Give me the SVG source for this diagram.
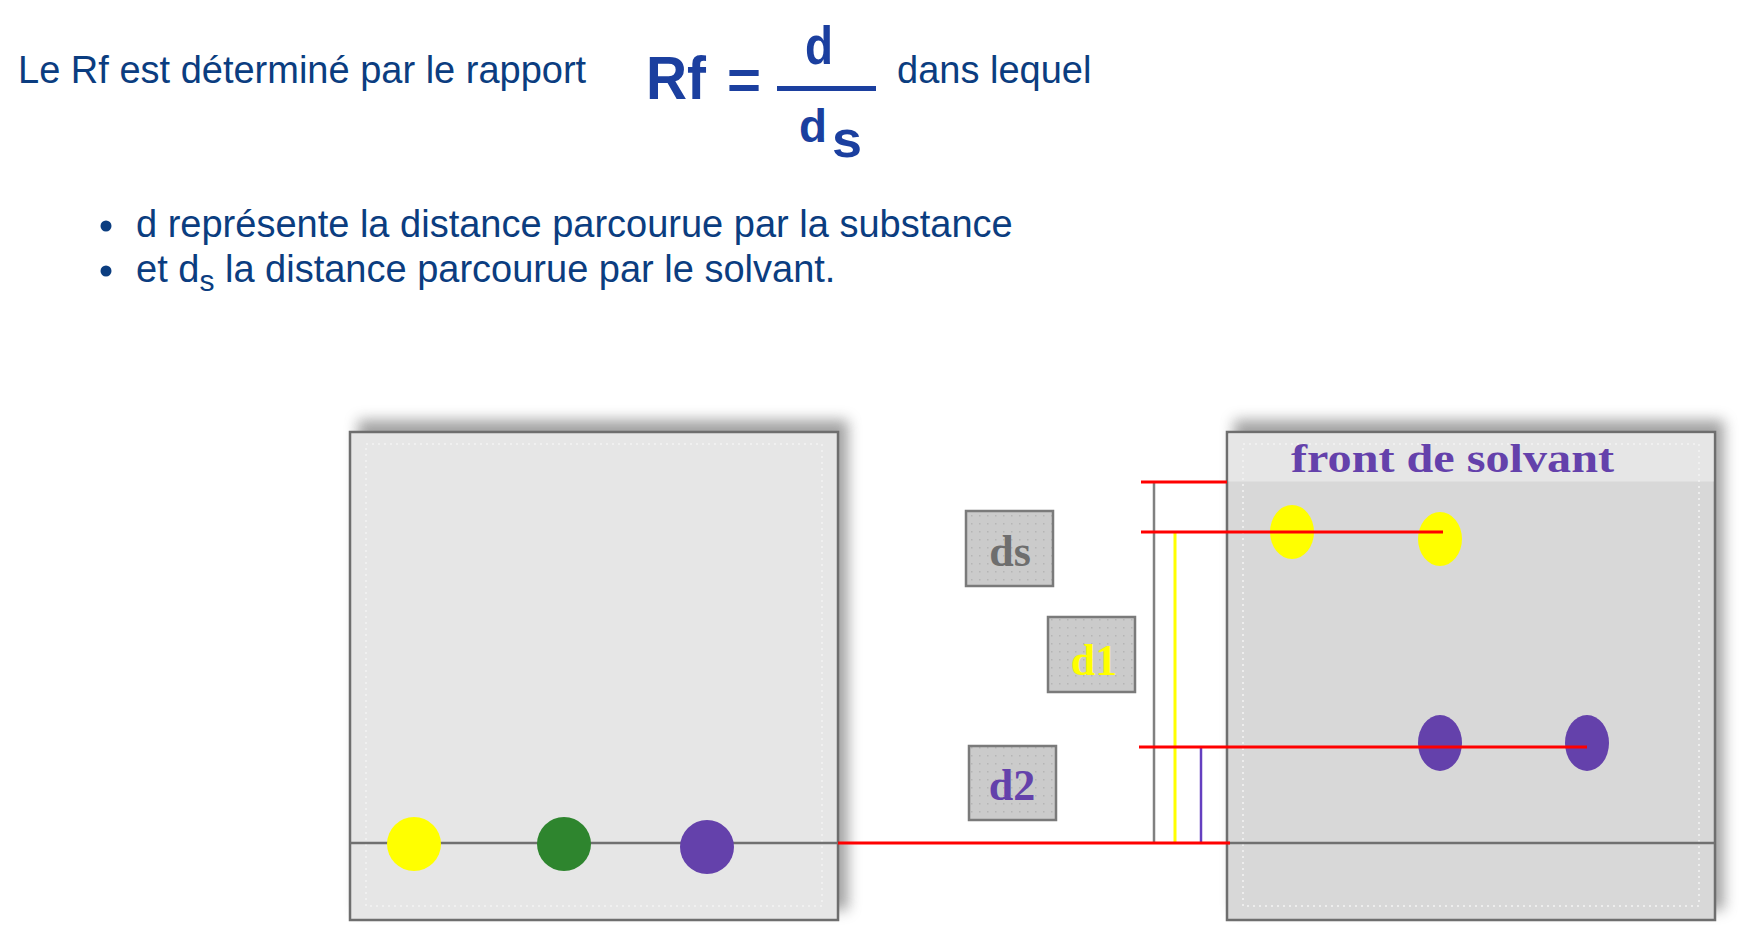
<svg xmlns="http://www.w3.org/2000/svg" width="1745" height="937" viewBox="0 0 1745 937">
<style>
.txt{font-family:"Liberation Sans",Arial,sans-serif;font-size:38px;fill:#0b3d80}
.frm{font-family:"Liberation Sans",Arial,sans-serif;font-weight:bold;fill:#1b3f9f}
.lbl{font-family:"Liberation Serif","Times New Roman",serif;font-weight:bold;font-size:44px}
.plate{stroke:#6e6e6e;stroke-width:2.5}
.inner{fill:none;stroke:#f4f4f4;stroke-width:1.5;stroke-dasharray:2 4}
.lblbox{fill:url(#dots);stroke:#7a7a7a;stroke-width:2.5}
.red{stroke:#ff0000;stroke-width:3}
.base{stroke:#707070;stroke-width:2.5}
.shadow{fill:#7a7a7a;opacity:0.7}
</style>
<defs>
<filter id="shadow" x="-10%" y="-10%" width="120%" height="120%">
<feGaussianBlur stdDeviation="7"/>
</filter>
<pattern id="dots" width="8" height="8" patternUnits="userSpaceOnUse">
<rect width="8" height="8" fill="#cbcbcb"/>
<rect x="3" y="3" width="1.5" height="1.5" fill="#b5b5b5"/>
</pattern>
</defs>
<rect width="1745" height="937" fill="#ffffff"/>

<g id="header">
<text class="txt" x="18" y="83">Le Rf est déterminé par le rapport</text>
<text class="frm" x="646" y="99" font-size="62" textLength="60" lengthAdjust="spacingAndGlyphs">Rf</text>
<text class="frm" x="727" y="99" font-size="56" textLength="34" lengthAdjust="spacingAndGlyphs">=</text>
<rect x="777" y="86" width="99" height="5" fill="#1b3f9f"/>
<text class="frm" x="805" y="64" font-size="54" textLength="28" lengthAdjust="spacingAndGlyphs">d</text>
<text class="frm" x="799" y="142" font-size="46" textLength="28" lengthAdjust="spacingAndGlyphs">d</text>
<text class="frm" x="832" y="157" font-size="52" textLength="30" lengthAdjust="spacingAndGlyphs">s</text>
<text class="txt" x="897" y="83">dans lequel</text>
</g>

<g id="bullets">
<circle cx="106" cy="226" r="5.5" fill="#0b3d80"/>
<text class="txt" x="136" y="237">d représente la distance parcourue par la substance</text>
<circle cx="106" cy="271" r="5.5" fill="#0b3d80"/>
<text class="txt" x="136" y="282">et d<tspan font-size="30" dy="9">s</tspan><tspan dy="-9"> la distance parcourue par le solvant.</tspan></text>
</g>

<g id="plate-left">
<rect class="shadow" x="358" y="420" width="490" height="490" filter="url(#shadow)"/>
<rect class="plate" x="350" y="432" width="488" height="488" fill="#e6e6e6"/>
<rect class="inner" x="366" y="444" width="456" height="462"/>
<line class="base" x1="350" y1="843" x2="838" y2="843"/>
<circle cx="414" cy="844" r="27" fill="#ffff00"/>
<circle cx="564" cy="844" r="27" fill="#2e852e"/>
<circle cx="707" cy="847" r="27" fill="#6441ab"/>
</g>

<g id="plate-right">
<rect class="shadow" x="1234" y="420" width="490" height="490" filter="url(#shadow)"/>
<rect class="plate" x="1227" y="432" width="488" height="488" fill="#d8d8d8"/>
<rect x="1228.5" y="433.5" width="485" height="48" fill="#e6e6e6"/>
<rect class="inner" x="1243" y="444" width="456" height="462"/>
<line class="base" x1="1227" y1="843" x2="1715" y2="843"/>
<text x="1291" y="472" font-family="'Liberation Serif','Times New Roman',serif" font-weight="bold" font-size="40" fill="#6441ab" textLength="323" lengthAdjust="spacingAndGlyphs">front de solvant</text>
<ellipse cx="1292" cy="532" rx="22" ry="27" fill="#ffff00"/>
<ellipse cx="1440" cy="539" rx="22" ry="27" fill="#ffff00"/>
<ellipse cx="1440" cy="743" rx="22" ry="28" fill="#6441ab"/>
<ellipse cx="1587" cy="743" rx="22" ry="28" fill="#6441ab"/>
</g>

<g id="label-ds">
<rect class="lblbox" x="966" y="511" width="87" height="75"/>
<text class="lbl" x="1010" y="566" text-anchor="middle" fill="#6e6e6e">ds</text>
</g>
<g id="label-d1">
<rect class="lblbox" x="1048" y="617" width="87" height="75"/>
<text class="lbl" x="1094" y="675" text-anchor="middle" fill="#ffff00">d1</text>
</g>
<g id="label-d2">
<rect class="lblbox" x="969" y="746" width="87" height="74"/>
<text class="lbl" x="1012" y="800" text-anchor="middle" fill="#6441ab">d2</text>
</g>

<g id="connectors">
<line x1="1154" y1="482" x2="1154" y2="843" stroke="#808080" stroke-width="2.5"/>
<line x1="1175" y1="532" x2="1175" y2="843" stroke="#ffff00" stroke-width="3"/>
<line x1="1201" y1="747" x2="1201" y2="843" stroke="#6440c0" stroke-width="2.5"/>
<line class="red" x1="1141" y1="482" x2="1227" y2="482"/>
<line class="red" x1="1141" y1="532" x2="1443" y2="532"/>
<line class="red" x1="1139" y1="747" x2="1587" y2="747"/>
<line class="red" x1="838" y1="843" x2="1230" y2="843"/>
</g>
</svg>
